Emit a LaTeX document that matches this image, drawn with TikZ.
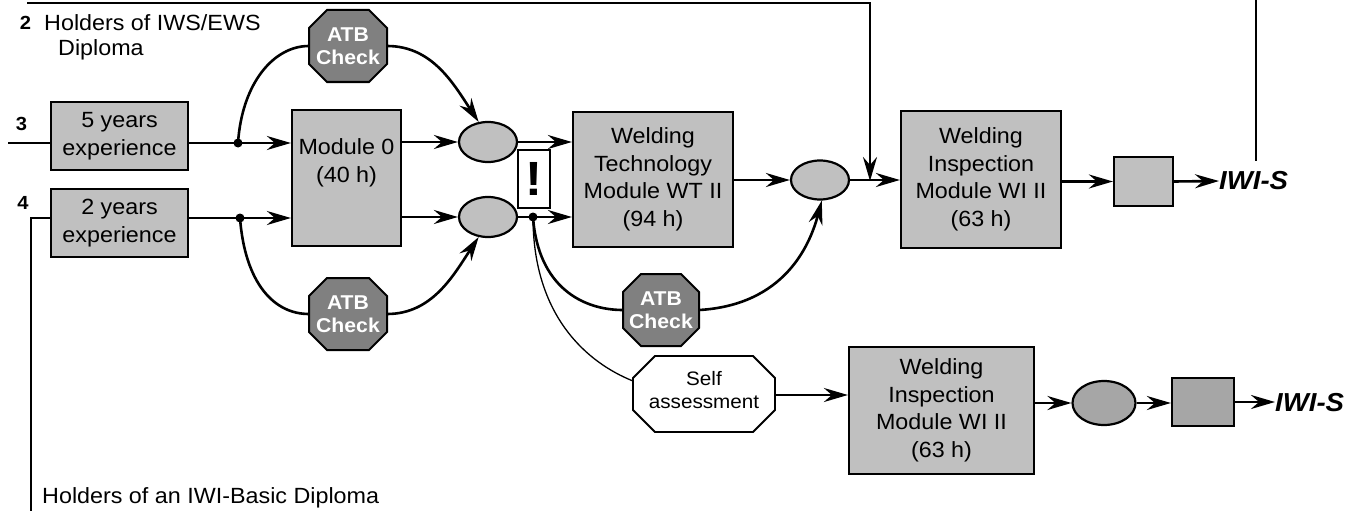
\documentclass[tikz,border=0pt]{standalone}
\usepackage{fontspec}
\setmainfont{Liberation Sans}[FakeStretch=1.06]
\usetikzlibrary{arrows.meta,shapes.geometric,calc}
\definecolor{boxgray}{HTML}{C0C0C0}
\definecolor{atbgray}{HTML}{808080}
\definecolor{darkbox}{HTML}{A6A6A6}
\newcommand\octshape[6]{\path[#1] ({#2-#4+#6},{#3-#5}) -- ({#2+#4-#6},{#3-#5}) -- ({#2+#4},{#3-#5+#6}) -- ({#2+#4},{#3+#5-#6}) -- ({#2+#4-#6},{#3+#5}) -- ({#2-#4+#6},{#3+#5}) -- ({#2-#4},{#3+#5-#6}) -- ({#2-#4},{#3-#5+#6}) -- cycle;}
\begin{document}
\begin{tikzpicture}[x=1pt,y=-1pt,
  line/.style={line width=2.6pt},
  thinline/.style={line width=1.3pt},
  arr/.style={line, -{Stealth[length=24pt,width=14pt,inset=8pt]}},
  box/.style={draw, line width=2.2pt, fill=boxgray, inner sep=0pt, align=center, font=\fontsize{22}{27.5}\selectfont},
  oval/.style={draw, ellipse, line width=2.2pt, fill=boxgray, inner sep=0pt},
  txt/.style={inner sep=0pt, font=\fontsize{22}{27.5}\selectfont},
  num/.style={inner sep=0pt, font=\fontsize{19}{19}\selectfont\bfseries},
  atbtext/.style={inner sep=0pt, align=center, text=white, font=\fontsize{20}{23}\selectfont\bfseries, minimum width=78pt, minimum height=72pt},
  atbshape/.style={draw, line width=2pt, fill=atbgray},
  selfshape/.style={draw, line width=1.8pt, fill=white},
  selftext/.style={inner sep=0pt, align=center, font=\fontsize{19.5}{23}\selectfont},
  iwis/.style={inner sep=0pt, font=\fontsize{26}{26}\selectfont\bfseries\itshape},
  dot/.style={fill=black}
]
\useasboundingbox (0,0) rectangle (1360,511);

% texts
\node[num] (n2) at (25.5,22.5) {2};
\node[txt, anchor=west] (h2) at (44,22.4) {Holders of IWS/EWS};
\node[txt, anchor=west] (h2b) at (58,50) {Diploma};
\node[num] (n3) at (21.5,124) {3};
\node[num] (n4) at (23,203) {4};
\node[txt, anchor=west] (h4) at (42,497.5) {Holders of an IWI-Basic Diploma};

% boxes
\node[box, minimum width=137pt, minimum height=68pt] (box5) at (119.5,136) {5 years\\experience};
\node[box, minimum width=137pt, minimum height=68pt] (box2) at (119.5,223) {2 years\\experience};
\node[box, minimum width=109pt, minimum height=136pt] (mod0) at (346.5,178) {};
\node[txt, align=center] (mod0t) at (346.5,163) {Module 0\\(40 h)};
\node[oval, minimum width=58pt, minimum height=40pt] (e1) at (488,142) {};
\node[oval, minimum width=58pt, minimum height=40pt] (e2) at (488,217) {};
\node[draw, line width=2pt, fill=white, minimum width=32pt, minimum height=58pt, inner sep=0pt, font=\fontsize{48}{48}\selectfont\bfseries] (warn) at (534,179) {!};
\node[box, minimum width=160pt, minimum height=135pt] (wt) at (653,179.5) {Welding\\Technology\\Module WT II\\(94 h)};
\node[oval, minimum width=58pt, minimum height=39pt] (e3) at (820,180) {};
\node[box, minimum width=160pt, minimum height=137pt] (wi) at (981,179.5) {Welding\\Inspection\\Module WI II\\(63 h)};
\node[box, minimum width=59pt, minimum height=49pt] (sb1) at (1143.5,181.5) {};
\node[iwis, anchor=west] (iwis1) at (1219,181) {IWI-S};
\node[box, minimum width=185pt, minimum height=127pt] (wi2) at (941.5,410.5) {Welding\\Inspection\\Module WI II\\(63 h)};
\node[oval, fill=darkbox, minimum width=63pt, minimum height=44pt] (e4) at (1104,403) {};
\node[box, fill=darkbox, minimum width=62pt, minimum height=48pt] (sb2) at (1203,402) {};
\node[iwis, anchor=west] (iwis2) at (1275,403) {IWI-S};

% octagons
\octshape{atbshape}{348}{46}{39}{36}{18}
\node[atbtext] (atb1) at (348,46) {ATB\\Check};
\octshape{atbshape}{348}{314}{39}{36}{18}
\node[atbtext] (atb2) at (348,314) {ATB\\Check};
\octshape{atbshape}{661}{310}{38}{36}{18}
\node[atbtext, minimum width=76pt] (atb3) at (661,310) {ATB\\Check};
\octshape{selfshape}{704}{394}{71}{38}{22}
\node[selftext, minimum width=142pt, minimum height=76pt] (self) at (704,390) {Self\\assessment};

% coordinates
\coordinate (in3) at (8,143);
\coordinate (d1) at (238,143);
\coordinate (d2) at (240,218);
\coordinate (d3) at (533,217);
\coordinate (c4a) at (31,218);
\coordinate (c4b) at (31,511);
\coordinate (t0) at (27,3);
\coordinate (tj) at (870,181);
\coordinate (r1) at (1256,0);
\coordinate (r2) at (1256,161);
\coordinate (sin) at (633,381);

% connectors
\draw[line] (in3) -- (in3 -| box5.west);
\draw[line] (box5.east |- d1) -- (d1);
\draw[arr] (d1) -- (d1 -| mod0.west);
\draw[line] (box2.west |- d2) -- (c4a) -- (c4b);
\draw[line] (box2.east |- d2) -- (d2);
\draw[arr] (d2) -- (d2 -| mod0.west);
\draw[arr] (mod0.east |- e1) -- (e1.west);
\draw[arr] (mod0.east |- e2) -- (e2.west);
\draw[arr] (e1.east) -- (e1.east -| wt.west);
\draw[arr] (e2.east) -- (e2.east -| wt.west);
\draw[arr] (wt.east |- e3) -- (e3.west);
\draw[arr] (e3.east) -- (e3.east -| wi.west);
\draw[arr] (t0) -| (tj);
\draw[arr] (wi.east |- sb1) -- (sb1.west);
\draw[arr] (sb1.east) -- (iwis1.west);
\draw[line] (r1) -- (r2);

\draw[line] (d1) .. controls +(4,-60) and +(-35,0) .. (atb1.west);
\draw[arr] (atb1.east) .. controls +(45,0) and +(-25,-38) .. (e1.115);
\draw[line] (d2) .. controls +(5,65) and +(-35,0) .. (atb2.west);
\draw[arr] (atb2.east) .. controls +(45,0) and +(-25,38) .. (e2.-115);
\draw[line] (d3) .. controls +(5,70) and +(-40,0) .. (atb3.west);
\draw[arr] (atb3.east) .. controls +(85,-5) and +(-12,45) .. (e3.-85);
\draw[thinline] (d3) .. controls +(0,100) and +(-45,-18) .. (sin);

\draw[arr] (self.east |- 0,395) -- (wi2.west |- 0,395);
\draw[arr] (wi2.east |- e4) -- (e4.west);
\draw[arr] (e4.east) -- (e4.east -| sb2.west);
\draw[arr] (sb2.east) -- (sb2.east -| iwis2.west);

\fill[dot] (d1) circle (4.5pt);
\fill[dot] (d2) circle (4.5pt);
\fill[dot] (d3) circle (4.5pt);
\end{tikzpicture}
\end{document}
